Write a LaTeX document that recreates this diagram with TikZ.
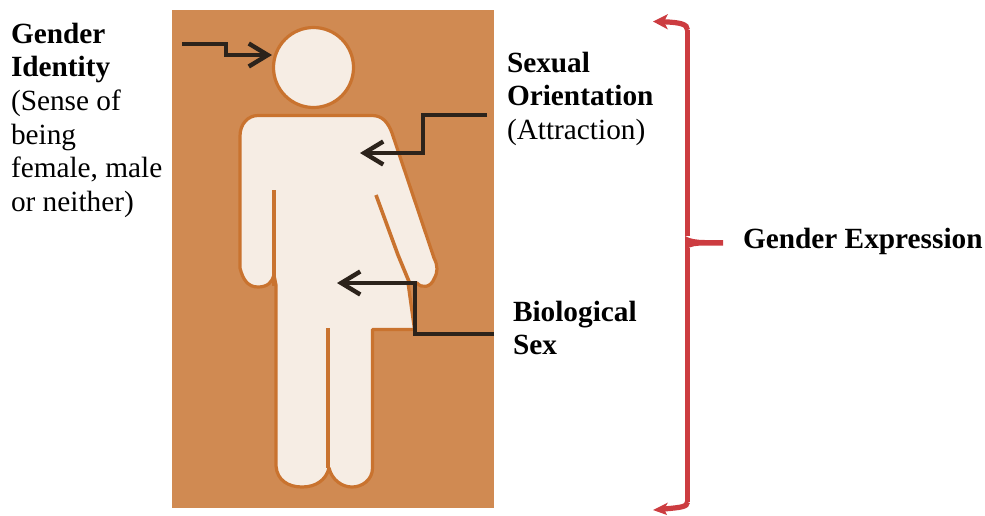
\documentclass[tikz,border=0pt]{standalone}
\usepackage{fontspec}
\setmainfont{Liberation Serif}
\usetikzlibrary{arrows.meta}
\definecolor{bgorange}{HTML}{D08A52}
\definecolor{halo}{HTML}{C9732F}
\definecolor{cream}{HTML}{F6EDE4}
\definecolor{ink}{HTML}{2C231B}
\definecolor{bracered}{HTML}{CC3C40}
\tikzset{
  lbl/.style={inner sep=0pt,outer sep=0pt,anchor=north west,align=left,font=\fontsize{29.3}{33.6}\selectfont},
  pointer/.style={draw=ink,line width=3.4pt,-{Straight Barb[length=19pt,width=23pt,line width=4.4pt]}},
  figfill/.style={fill=cream,draw=halo,line width=3.2pt,line join=round},
  gapline/.style={draw=halo,line width=3.6pt},
  bracestroke/.style={draw=bracered,line width=5.2pt},
}
\begin{document}
\begin{tikzpicture}[x=1pt,y=-1pt]
\useasboundingbox (0,0) rectangle (985,515);
\fill[bgorange] (172,10) rectangle (494,508);
% figure
\node[figfill,circle,minimum size=80pt,inner sep=0pt] (head) at (313.5,67.5) {};
\path[figfill] (258,115.5)
  -- (372,115.5) .. controls (382,115.5) and (388,122) .. (392,133)
  -- (434,258) .. controls (438,266) and (438,272) .. (434,279)
  .. controls (431,287) and (422,289) .. (417,283)
  -- (408,283) -- (414.5,329.5) -- (372.5,329.5) -- (372.5,468)
  .. controls (372.5,480) and (362,487) .. (352,487)
  .. controls (342,487) and (332,480) .. (329,468)
  .. controls (326,480) and (316,487) .. (302,487)
  .. controls (288,487) and (277,480) .. (276,466)
  -- (276,285) -- (274,275) .. controls (272,282) and (268,287) .. (258,287)
  .. controls (248,287) and (243,280) .. (240,268)
  -- (240,136) .. controls (240,124) and (248,115.5) .. (258,115.5) -- cycle;
\coordinate (legGapTop) at (328,328);
\coordinate (legGapEnd) at (328,468);
\coordinate (armGapTop) at (274,190);
\coordinate (armGapEnd) at (274,286);
\coordinate (skirtA) at (376,195);
\coordinate (skirtB) at (398,255);
\coordinate (skirtC) at (410,284);
\draw[gapline] (legGapTop) -- (legGapEnd);
\draw[gapline] (armGapTop) -- (armGapEnd);
\draw[gapline] (skirtA) -- (skirtB) -- (skirtC);
% text
\node[lbl] (identity) at (11,23) {\textbf{Gender}\\\textbf{Identity}\\(Sense of\\being\\female, male\\or neither)};
\node[lbl] (orientation) at (507,52) {\textbf{Sexual}\\\textbf{Orientation}\\(Attraction)};
\node[lbl] (sex) at (513,301) {\textbf{Biological}\\\textbf{Sex}};
\node[lbl] (expression) at (743,228.5) {\textbf{Gender Expression}};
% pointers
\coordinate (p1s) at (182,44); \coordinate (p1a) at (226,44); \coordinate (p1b) at (226,55); \coordinate (p1e) at (272,55);
\coordinate (p2s) at (487,115); \coordinate (p2a) at (423,115); \coordinate (p2b) at (423,153); \coordinate (p2e) at (360,153);
\coordinate (p3s) at (494,334); \coordinate (p3a) at (415,334); \coordinate (p3b) at (415,283); \coordinate (p3e) at (337,283);
\draw[pointer] (p1s) -- (p1a) -- (p1b) -- (p1e);
\draw[pointer] (p2s) -- (p2a) -- (p2b) -- (p2e);
\draw[pointer] (p3s) -- (p3a) -- (p3b) -- (p3e);
% brace
\coordinate (bTop) at (687.5,30);
\coordinate (bBot) at (687.5,502);
\coordinate (tipTop) at (653,21.5);
\coordinate (tipBot) at (653,510);
\draw[bracestroke] (bTop) -- (687.5,236);
\draw[bracestroke] (687.5,248) -- (bBot);
\draw[bracestroke] (bTop) .. controls (687.5,24) and (680,22.5) .. (664,21.8);
\draw[bracestroke] (bBot) .. controls (687.5,507) and (680,507.5) .. (664,509);
\fill[bracered] (tipTop) -- (668,14) -- (664,21.8) -- (668,29.5) -- cycle;
\fill[bracered] (tipBot) -- (668,502.5) -- (664,509) -- (667,515) -- cycle;
\fill[bracered] (685,236) .. controls (690,239) and (697,240) .. (705,240)
  -- (723,240) -- (723,245.5) -- (705,245.5)
  .. controls (697,245.5) and (690,246) .. (685,250) -- cycle;
\end{tikzpicture}
\end{document}
